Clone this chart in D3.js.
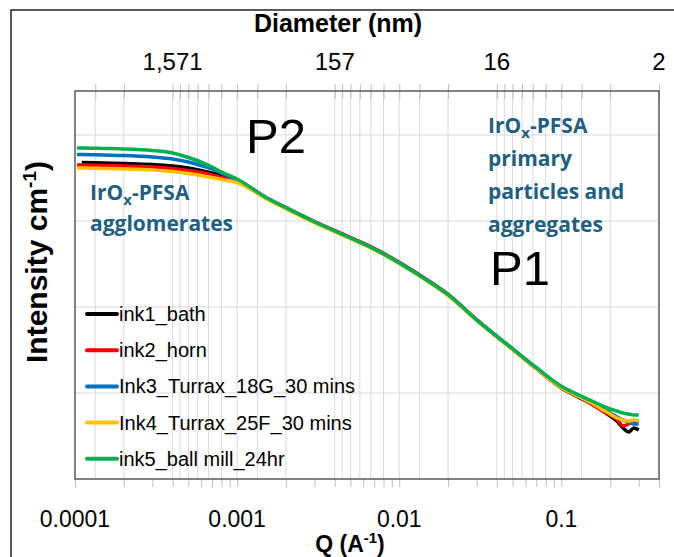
<!DOCTYPE html>
<html>
<head>
<meta charset="utf-8">
<script src="https://cdn.jsdelivr.net/npm/d3@7"></script>
<style>
  body { margin: 0; background: #fff; }
  svg text { font-family: "Liberation Sans", Arial, sans-serif; }
</style>
</head>
<body>
<div id="chart"></div>
<script>
// Q (A^-1) sample points
const q = [1.03e-4, 1.1e-4, 1.5e-4, 2e-4, 3e-4, 4e-4, 5e-4, 6e-4, 7e-4, 8e-4, 1e-3,
  1.5e-3, 2e-3, 3e-3, 5e-3, 7e-3, 0.01, 0.015, 0.02, 0.03, 0.05, 0.07, 0.1,
  0.13, 0.15, 0.18, 0.2, 0.22, 0.24, 0.26, 0.28, 0.3];

// intensities (arbitrary, log axis has no labels)
const ink1 = [null, 47.9, 47.2, 46.6, 45.4, 43.6, 41.3, 38.7, 36.1, 33.4, 29.6,
  18.6, 14.1, 9.72, 6.36, 4.76, 3.28, 2.03, 1.39, 0.708, 0.323, 0.193, 0.114,
  0.0875, 0.0765, 0.0618, 0.0540, 0.0472, 0.0392, 0.0352, 0.0392, 0.0371];
const ink2 = [44.8, 44.8, 44.2, 43.6, 42.5, 40.8, 38.7, 36.6, 34.3, 32.1, 29.2,
  18.8, 14.3, 9.85, 6.42, 4.8, 3.3, 2.04, 1.4, 0.712, 0.324, 0.193, 0.115,
  0.0899, 0.0765, 0.0618, 0.0555, 0.0498, 0.0413, 0.0436, 0.0472, 0.0472];
const ink3 = [59.3, 59.3, 58.5, 57.8, 55.5, 52.6, 48.5, 44.2, 40.3, 36.1, 30.0,
  18.7, 14.2, 9.74, 6.33, 4.72, 3.24, 2.01, 1.38, 0.705, 0.324, 0.194, 0.116,
  0.0899, 0.0786, 0.0652, 0.0585, 0.0526, 0.0485, 0.0460, 0.0436, 0.0436];
const ink4 = [41.3, 41.3, 40.8, 40.3, 39.2, 37.6, 35.7, 33.8, 32.1, 30.4, 28.0,
  18.3, 13.9, 9.55, 6.22, 4.65, 3.2, 1.98, 1.36, 0.7, 0.322, 0.193, 0.115,
  0.0899, 0.0786, 0.0634, 0.0570, 0.0512, 0.0485, 0.0472, 0.0485, 0.0472];
const ink5 = [70.6, 70.6, 69.7, 68.8, 66.0, 61.8, 54.8, 48.5, 42.5, 37.1, 30.8,
  18.9, 14.3, 9.8, 6.35, 4.74, 3.25, 2.02, 1.39, 0.71, 0.328, 0.198, 0.12,
  0.0935, 0.0829, 0.0706, 0.0652, 0.0618, 0.0585, 0.0570, 0.0555, 0.0555];

const seriesNames = ["ink1_bath", "ink2_horn", "Ink3_Turrax_18G_30 mins", "Ink4_Turrax_25F_30 mins", "ink5_ball mill_24hr"];
const seriesColors = ["#000000", "#ff0000", "#0070c0", "#ffc000", "#00b050"];
const seriesValues = [ink1, ink2, ink3, ink4, ink5];

const qTickLabels = [0.0001, 0.001, 0.01, 0.1];
const diameterLabels = [1570.8, 157.08, 15.708, 1.5708];   // 2*pi/Q in nm
const yGridValues = [0.1, 1, 10, 100];

const svg = d3.select("#chart").append("svg")
  .attr("width", 674).attr("height", 557);

svg.append("rect").attr("width", 674).attr("height", 557).attr("fill", "#fff");

// outer frame of the slide image
svg.append("path")
  .attr("d", "M11,557 V10 H674")
  .attr("fill", "none").attr("stroke", "#222").attr("stroke-width", 1.5);

const x = d3.scaleLog().domain([1e-4, 0.4]).range([75, 659]);
const y = d3.scaleLog().domain([0.01, 316.2]).range([479, 92]);
const xTop = d3.scaleLog().domain([2 * Math.PI / 1e-4 / 10, 2 * Math.PI / 0.4 / 10]).range([75, 659]);

// top axis ticks: k * 1.5708 * 10^n
let topTicks = [];
diameterLabels.forEach(d => {
  for (let k = 1; k <= 9; k++) {
    const v = d * k;
    if (v <= xTop.domain()[0] + 1e-6) topTicks.push(v);
  }
});
let bottomTicks = [];
qTickLabels.forEach(d => {
  for (let k = 1; k <= 9; k++) {
    const v = d * k;
    if (v <= 0.4 + 1e-9) bottomTicks.push(v);
  }
});

// grid
const grid = svg.append("g");
grid.selectAll("line.v").data(topTicks.filter(t => xTop(t) > 76 && xTop(t) < 658))
  .join("line")
  .attr("x1", d => xTop(d)).attr("x2", d => xTop(d))
  .attr("y1", 91).attr("y2", 479)
  .attr("stroke", "#d9d9d9").attr("stroke-width", 1);
grid.selectAll("line.h").data(yGridValues)
  .join("line")
  .attr("x1", 75).attr("x2", 659)
  .attr("y1", d => y(d)).attr("y2", d => y(d))
  .attr("stroke", "#d9d9d9").attr("stroke-width", 1);

// ticks
const gTop = svg.append("g").attr("transform", "translate(0,91)");
gTop.call(d3.axisTop(xTop).tickValues(topTicks).tickSize(7).tickFormat(""));
gTop.selectAll(".tick line").attr("y2", 0).attr("y1", -7).attr("stroke", "#bfbfbf");
gTop.selectAll(".tick").append("line").attr("y1", 0).attr("y2", 8).attr("stroke", "#bfbfbf");
gTop.select(".domain").remove();

const gBot = svg.append("g").attr("transform", "translate(0,479)");
gBot.call(d3.axisBottom(x).tickValues(bottomTicks).tickSize(8).tickFormat(""));
gBot.selectAll(".tick line").attr("stroke", "#bfbfbf");
gBot.select(".domain").remove();

// plot border
svg.append("rect")
  .attr("x", 75).attr("y", 91).attr("width", 584).attr("height", 388)
  .attr("fill", "none").attr("stroke", "#595959").attr("stroke-width", 1.5);

// tick labels
svg.append("g").selectAll("text").data(qTickLabels).join("text")
  .attr("x", d => x(d)).attr("y", 527)
  .attr("text-anchor", "middle").attr("font-size", 23)
  .text(d => d3.format("")(d));
svg.append("g").selectAll("text").data(diameterLabels).join("text")
  .attr("x", d => xTop(d)).attr("y", 70)
  .attr("text-anchor", "middle").attr("font-size", 24)
  .text(d => d3.format(",.0f")(d));

// axis titles
svg.append("text").attr("x", 338).attr("y", 32).attr("text-anchor", "middle")
  .attr("font-size", 25).attr("font-weight", "bold").text("Diameter (nm)");
const qt = svg.append("text").attr("x", 350).attr("y", 552).attr("text-anchor", "middle")
  .attr("font-size", 23).attr("font-weight", "bold");
qt.append("tspan").text("Q (A");
qt.append("tspan").attr("font-size", 15).attr("dy", -9).text("-1");
qt.append("tspan").attr("dy", 9).text(")");
const yt = svg.append("text").attr("transform", "translate(47,262) rotate(-90)")
  .attr("text-anchor", "middle").attr("font-size", 30).attr("font-weight", "bold");
yt.append("tspan").text("Intensity cm");
yt.append("tspan").attr("font-size", 19).attr("dy", -11).text("-1");
yt.append("tspan").attr("dy", 11).text(")");

// curves
const line = d3.line()
  .defined(d => d[1] != null)
  .x(d => x(d[0])).y(d => y(d[1]))
  .curve(d3.curveMonotoneX);
seriesValues.forEach((vals, i) => {
  svg.append("path")
    .datum(q.map((qq, j) => [qq, vals[j]]))
    .attr("d", line)
    .attr("fill", "none")
    .attr("stroke", seriesColors[i])
    .attr("stroke-width", 3.5)
    .attr("stroke-linejoin", "round");
});

// P labels
svg.append("text").attr("x", 246).attr("y", 153).attr("font-size", 49).text("P2");
svg.append("text").attr("x", 490).attr("y", 285).attr("font-size", 49).text("P1");

// annotations
const ann = svg.append("g")
  .attr("fill", "#1f5f80").attr("font-size", 21).attr("font-weight", "bold");
function irox(xx, yy) {
  const t = ann.append("text").attr("x", xx).attr("y", yy);
  t.append("tspan").text("IrO");
  t.append("tspan").attr("font-size", 15).attr("dy", 5).text("x");
  t.append("tspan").attr("dy", -5).text("-PFSA");
}
irox(90, 200);
ann.append("text").attr("x", 90).attr("y", 231).text("agglomerates");
irox(488, 133);
["primary", "particles and", "aggregates"].forEach((s, i) => {
  ann.append("text").attr("x", 488).attr("y", 166 + i * 33).text(s);
});
ann.selectAll("text").style("font-family", "'Open Sans', sans-serif");

// legend
const leg = svg.append("g");
seriesNames.forEach((name, i) => {
  const ly = 314 + i * 36.2;
  leg.append("line").attr("x1", 87).attr("x2", 117).attr("y1", ly).attr("y2", ly)
    .attr("stroke", seriesColors[i]).attr("stroke-width", 4).attr("stroke-linecap", "round");
  leg.append("text").attr("x", 119).attr("y", ly + 7).attr("font-size", 20).text(name);
});
</script>
</body>
</html>
